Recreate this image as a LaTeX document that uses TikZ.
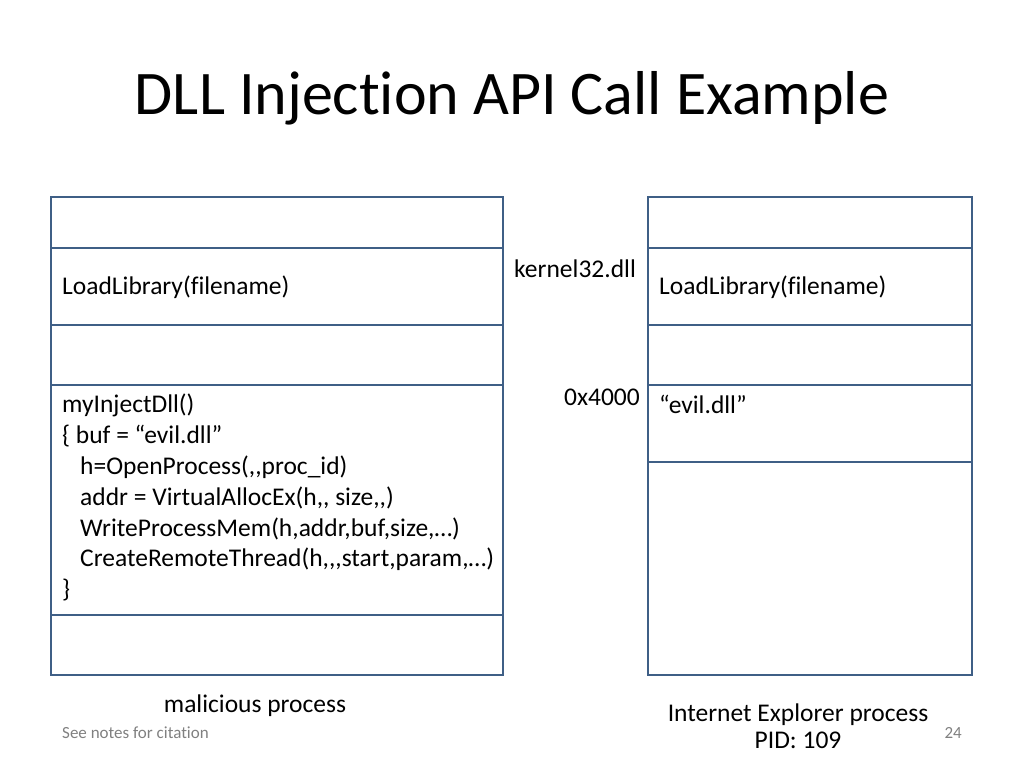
\documentclass[tikz,border=0pt]{standalone}
\usepackage{fontspec}
\setmainfont{Carlito}[Ligatures={NoCommon,TeXOff}]
\begin{document}
\begin{tikzpicture}[x=1pt,y=-1pt,
  box/.style={draw=boxc,line width=2pt},
  txt/.style={inner sep=0pt,font=\fontsize{25.5}{30.8}\selectfont},
  small/.style={inner sep=0pt,font=\fontsize{17}{20}\selectfont,text=gray}]
\definecolor{boxc}{HTML}{3F5F86}
\useasboundingbox (0,0) rectangle (1024,768);
\node[inner sep=0pt,font=\fontsize{62}{70}\selectfont] (title) at (512,98) {DLL Injection API Call Example};
% left process
\draw[box] (51,197) rectangle (503,675);
\foreach \y in {248,325,385,615} \draw[box] (51,\y) -- (503,\y);
% right process
\draw[box] (648,197) rectangle (972,675);
\foreach \y in {248,325,385,462} \draw[box] (648,\y) -- (972,\y);
\node[txt,anchor=base west] (ll1) at (62,294) {LoadLibrary(filename)};
\node[txt,anchor=base west] (ll2) at (659,294) {LoadLibrary(filename)};
\node[txt,anchor=base west] (k32) at (514,277) {kernel32.dll};
\node[txt,anchor=base east] (addr) at (640,405) {0x4000};
\node[txt,anchor=base west] (evil) at (659,413) {“evil.dll”};
\node[txt,anchor=north west,align=left] (code) at (62,394) {myInjectDll()\\
\{ buf = “evil.dll”\\
\hspace*{18pt}h=OpenProcess(,,proc\_id)\\
\hspace*{18pt}addr = VirtualAllocEx(h,, size,,)\\
\hspace*{18pt}WriteProcessMem(h,addr,buf,size,…)\\
\hspace*{18pt}CreateRemoteThread(h,,,start,param,…)\\
\}};
\node[txt,anchor=base] (mp) at (255,712) {malicious process};
\node[txt,anchor=base] (ie) at (798,721) {Internet Explorer process};
\node[txt,anchor=base] (pid) at (798,748) {PID: 109};
\node[small,anchor=base west] (cite) at (62,738) {See notes for citation};
\node[small,anchor=base east] (pg) at (962,738) {24};
\end{tikzpicture}
\end{document}
